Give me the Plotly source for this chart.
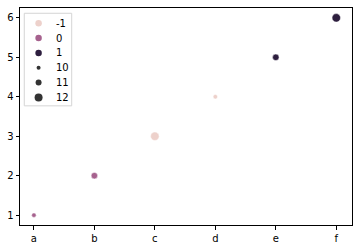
import plotly.graph_objects as go

categories = ["a", "b", "c", "d", "e", "f"]
y_values = [1, 2, 3, 4, 5, 6]
hue_values = [0, 0, -1, -1, 1, 1]
size_values = [10, 11, 12, 10, 11, 12]

hue_levels = [-1, 0, 1]
hue_colors = ["#edd1cb", "#a6628e", "#2d1e3e"]
size_levels = [10, 11, 12]
size_px = [4.5, 6.5, 8.5]
size_legend_color = "#333333"

W, H = 364, 252
L, R, T, B = 18, 12, 7, 27
FONT = dict(family="DejaVu Sans", size=10, color="black")

hue_map = dict(zip(hue_levels, hue_colors))
size_map = dict(zip(size_levels, size_px))

fig = go.Figure()
fig.add_trace(go.Scatter(
    x=categories, y=y_values, mode="markers",
    marker=dict(color=[hue_map[h] for h in hue_values],
                size=[size_map[s] for s in size_values],
                line=dict(color="white", width=0.5), opacity=1),
    showlegend=False, hoverinfo="skip"))

# legend drawn on an overlay axis in pixel units
labels = [str(h) for h in hue_levels] + [str(s) for s in size_levels]
colors = hue_colors + [size_legend_color] * len(size_levels)
sizes = [6.5] * len(hue_levels) + [s - 0.5 for s in size_px]
leg_top, leg_step = 22.3, 14.9
leg_y = [leg_top + i * leg_step for i in range(len(labels))]
fig.add_trace(go.Scatter(
    x=[36.7] * len(labels), y=leg_y, mode="markers",
    marker=dict(color=colors, size=sizes, line=dict(width=0), opacity=1),
    xaxis="x2", yaxis="y2", showlegend=False, hoverinfo="skip"))
for lab, yy in zip(labels, leg_y):
    fig.add_annotation(x=52.5, y=yy, xref="x2", yref="y2", text=lab,
                       showarrow=False, xanchor="left", yanchor="middle",
                       font=FONT)

pw, ph = W - L - R, H - T - B
fig.add_shape(type="rect", xref="paper", yref="paper",
              x0=(22.3 - L) / pw, x1=(70 - L) / pw,
              y0=(H - B - 105.3) / ph, y1=(H - B - 12.3) / ph,
              line=dict(color="#d5d5d5", width=1),
              fillcolor="white", layer="below")

axis_common = dict(showgrid=False, zeroline=False, showline=True, linecolor="black",
                   linewidth=1, mirror=True, ticks="outside", ticklen=3.5,
                   tickwidth=0.8, tickcolor="black", tickfont=FONT)
fig.update_layout(
    width=W, height=H, margin=dict(l=L, r=R, t=T, b=B),
    paper_bgcolor="white", plot_bgcolor="white", showlegend=False,
    hovermode=False,
    xaxis=dict(type="category", categoryorder="array", categoryarray=categories,
               range=[-0.23, 5.26], **axis_common),
    yaxis=dict(range=[0.75, 6.25], tickvals=[1, 2, 3, 4, 5, 6], **axis_common),
    xaxis2=dict(overlaying="x", range=[L, W - R], visible=False, fixedrange=True),
    yaxis2=dict(overlaying="y", range=[H - B, T], visible=False, fixedrange=True),
)
fig.write_html("out.html")
